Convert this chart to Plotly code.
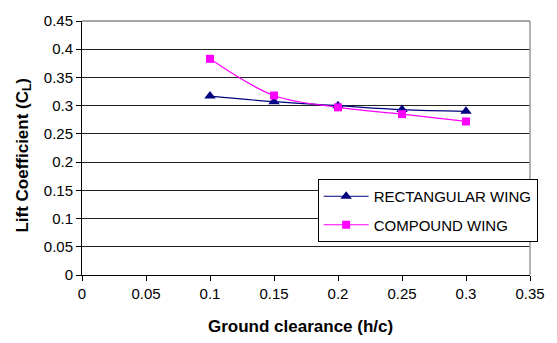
import plotly.graph_objects as go

h_c = [0.1, 0.15, 0.2, 0.25, 0.3]
rect_cl = [0.317, 0.307, 0.300, 0.293, 0.290]
comp_cl = [0.383, 0.318, 0.297, 0.285, 0.272]
x_ticks = [0, 0.05, 0.1, 0.15, 0.2, 0.25, 0.3, 0.35]
y_ticks = [0, 0.05, 0.1, 0.15, 0.2, 0.25, 0.3, 0.35, 0.4, 0.45]

fig = go.Figure()
fig.add_trace(go.Scatter(x=h_c, y=rect_cl, name="RECTANGULAR WING", mode="lines+markers",
                         legendgroup="a",
                         line=dict(color="#000080", width=1.2, shape="spline"),
                         marker=dict(symbol="triangle-up", size=10, color="#000080")))
fig.add_trace(go.Scatter(x=h_c, y=comp_cl, name="COMPOUND WING", mode="lines+markers",
                         legendgroup="b",
                         line=dict(color="#FF00FF", width=1.2, shape="spline"),
                         marker=dict(symbol="square", size=8, color="#FF00FF")))

font = "Liberation Sans, Arial, sans-serif"
fig.update_layout(
    width=557, height=343,
    margin=dict(l=82, r=21, t=12, b=68),
    paper_bgcolor="white", plot_bgcolor="white",
    font=dict(family=font, size=15, color="black"),
    showlegend=True,
    legend=dict(x=0.526, y=0.378, xanchor="left", yanchor="top",
                bordercolor="black", borderwidth=1, bgcolor="white",
                font=dict(size=15), tracegroupgap=6, itemwidth=45),
    xaxis=dict(range=[0, 0.35], tickvals=x_ticks, ticktext=[f"{v:g}" for v in x_ticks],
               showgrid=False, showline=True, linecolor="black", linewidth=1,
               ticks="outside", ticklen=5, tickcolor="black", zeroline=False,
               tickfont=dict(size=15)),
    yaxis=dict(range=[0, 0.45], tickvals=y_ticks, ticktext=[f"{v:g}" for v in y_ticks],
               showgrid=True, gridcolor="#222222", gridwidth=1,
               showline=True, linecolor="black", linewidth=1,
               ticks="outside", ticklen=5, tickcolor="black", zeroline=False,
               tickfont=dict(size=15)),
    annotations=[
        dict(text="<b>Ground clearance (h/c)</b>", xref="paper", yref="paper",
             x=0.487, y=-0.204, xanchor="center", yanchor="middle", showarrow=False,
             font=dict(size=17)),
        dict(text="<b>Lift Coefficient (C<sub>L</sub>)</b>", xref="paper", yref="paper",
             x=-0.13, y=0.473, xanchor="center", yanchor="middle", showarrow=False,
             textangle=-90, font=dict(size=17)),
    ],
)
# right and top borders (gray)
fig.add_shape(type="line", xref="paper", yref="paper", x0=1, x1=1, y0=0, y1=1,
              line=dict(color="#999999", width=1.5))
fig.add_shape(type="line", xref="paper", yref="paper", x0=0, x1=1, y0=1, y1=1,
              line=dict(color="#888888", width=1.5))

fig.write_html("out.html")
